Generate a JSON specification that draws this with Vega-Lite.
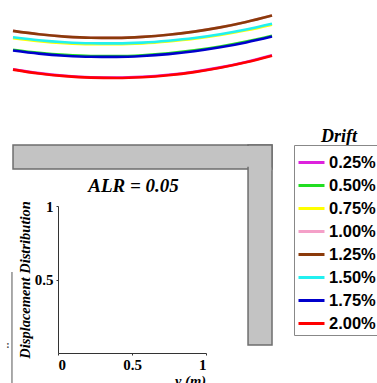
{
  "$schema": "https://vega.github.io/schema/vega-lite/v6.json",
  "width": 377,
  "height": 383,
  "autosize": {"type": "none"},
  "padding": 0,
  "background": "white",
  "config": {
    "view": {"stroke": null},
    "axis": {
      "grid": false,
      "labelFont": "Liberation Serif",
      "labelFontWeight": "bold",
      "labelFontSize": 15,
      "labelColor": "black",
      "titleFont": "Liberation Serif",
      "titleFontStyle": "italic",
      "titleFontWeight": "bold",
      "titleFontSize": 14.5,
      "titleColor": "black",
      "domainColor": "#333333",
      "tickColor": "#333333",
      "tickSize": 2
    }
  },
  "resolve": {"scale": {"x": "independent", "y": "independent"}},
  "layer": [
    {
      "data": {
        "values": [
          {"t": 0.0, "v": 30.8, "drift": "0.25%"}, {"t": 0.1, "v": 26.9, "drift": "0.25%"}, {"t": 0.2, "v": 24.3, "drift": "0.25%"}, {"t": 0.3, "v": 22.8, "drift": "0.25%"}, {"t": 0.4, "v": 22.4, "drift": "0.25%"}, {"t": 0.5, "v": 23.2, "drift": "0.25%"}, {"t": 0.6, "v": 25.2, "drift": "0.25%"}, {"t": 0.7, "v": 28.3, "drift": "0.25%"}, {"t": 0.8, "v": 32.6, "drift": "0.25%"}, {"t": 0.9, "v": 38.1, "drift": "0.25%"}, {"t": 1.0, "v": 44.7, "drift": "0.25%"},
          {"t": 0.0, "v": 50.3, "drift": "0.50%"}, {"t": 0.1, "v": 47.2, "drift": "0.50%"}, {"t": 0.2, "v": 45.1, "drift": "0.50%"}, {"t": 0.3, "v": 44.0, "drift": "0.50%"}, {"t": 0.4, "v": 43.9, "drift": "0.50%"}, {"t": 0.5, "v": 44.8, "drift": "0.50%"}, {"t": 0.6, "v": 46.7, "drift": "0.50%"}, {"t": 0.7, "v": 49.6, "drift": "0.50%"}, {"t": 0.8, "v": 53.5, "drift": "0.50%"}, {"t": 0.9, "v": 58.4, "drift": "0.50%"}, {"t": 1.0, "v": 64.3, "drift": "0.50%"},
          {"t": 0.0, "v": 61.9, "drift": "0.75%"}, {"t": 0.1, "v": 58.9, "drift": "0.75%"}, {"t": 0.2, "v": 56.9, "drift": "0.75%"}, {"t": 0.3, "v": 55.9, "drift": "0.75%"}, {"t": 0.4, "v": 55.8, "drift": "0.75%"}, {"t": 0.5, "v": 56.6, "drift": "0.75%"}, {"t": 0.6, "v": 58.5, "drift": "0.75%"}, {"t": 0.7, "v": 61.2, "drift": "0.75%"}, {"t": 0.8, "v": 65.0, "drift": "0.75%"}, {"t": 0.9, "v": 69.7, "drift": "0.75%"}, {"t": 1.0, "v": 75.4, "drift": "0.75%"},
          {"t": 0.0, "v": 69.1, "drift": "1.00%"}, {"t": 0.1, "v": 65.7, "drift": "1.00%"}, {"t": 0.2, "v": 63.4, "drift": "1.00%"}, {"t": 0.3, "v": 62.2, "drift": "1.00%"}, {"t": 0.4, "v": 62.1, "drift": "1.00%"}, {"t": 0.5, "v": 63.1, "drift": "1.00%"}, {"t": 0.6, "v": 65.2, "drift": "1.00%"}, {"t": 0.7, "v": 68.4, "drift": "1.00%"}, {"t": 0.8, "v": 72.6, "drift": "1.00%"}, {"t": 0.9, "v": 78.0, "drift": "1.00%"}, {"t": 1.0, "v": 84.5, "drift": "1.00%"},
          {"t": 0.0, "v": 69.1, "drift": "1.25%"}, {"t": 0.1, "v": 65.7, "drift": "1.25%"}, {"t": 0.2, "v": 63.4, "drift": "1.25%"}, {"t": 0.3, "v": 62.2, "drift": "1.25%"}, {"t": 0.4, "v": 62.1, "drift": "1.25%"}, {"t": 0.5, "v": 63.1, "drift": "1.25%"}, {"t": 0.6, "v": 65.2, "drift": "1.25%"}, {"t": 0.7, "v": 68.4, "drift": "1.25%"}, {"t": 0.8, "v": 72.6, "drift": "1.25%"}, {"t": 0.9, "v": 78.0, "drift": "1.25%"}, {"t": 1.0, "v": 84.5, "drift": "1.25%"},
          {"t": 0.0, "v": 62.7, "drift": "1.50%"}, {"t": 0.1, "v": 59.7, "drift": "1.50%"}, {"t": 0.2, "v": 57.7, "drift": "1.50%"}, {"t": 0.3, "v": 56.7, "drift": "1.50%"}, {"t": 0.4, "v": 56.6, "drift": "1.50%"}, {"t": 0.5, "v": 57.4, "drift": "1.50%"}, {"t": 0.6, "v": 59.3, "drift": "1.50%"}, {"t": 0.7, "v": 62.0, "drift": "1.50%"}, {"t": 0.8, "v": 65.8, "drift": "1.50%"}, {"t": 0.9, "v": 70.5, "drift": "1.50%"}, {"t": 1.0, "v": 76.2, "drift": "1.50%"},
          {"t": 0.0, "v": 49.5, "drift": "1.75%"}, {"t": 0.1, "v": 46.4, "drift": "1.75%"}, {"t": 0.2, "v": 44.3, "drift": "1.75%"}, {"t": 0.3, "v": 43.2, "drift": "1.75%"}, {"t": 0.4, "v": 43.1, "drift": "1.75%"}, {"t": 0.5, "v": 44.0, "drift": "1.75%"}, {"t": 0.6, "v": 45.9, "drift": "1.75%"}, {"t": 0.7, "v": 48.8, "drift": "1.75%"}, {"t": 0.8, "v": 52.7, "drift": "1.75%"}, {"t": 0.9, "v": 57.6, "drift": "1.75%"}, {"t": 1.0, "v": 63.5, "drift": "1.75%"},
          {"t": 0.0, "v": 30.4, "drift": "2.00%"}, {"t": 0.1, "v": 26.5, "drift": "2.00%"}, {"t": 0.2, "v": 23.9, "drift": "2.00%"}, {"t": 0.3, "v": 22.4, "drift": "2.00%"}, {"t": 0.4, "v": 22.0, "drift": "2.00%"}, {"t": 0.5, "v": 22.8, "drift": "2.00%"}, {"t": 0.6, "v": 24.8, "drift": "2.00%"}, {"t": 0.7, "v": 27.9, "drift": "2.00%"}, {"t": 0.8, "v": 32.2, "drift": "2.00%"}, {"t": 0.9, "v": 37.7, "drift": "2.00%"}, {"t": 1.0, "v": 44.3, "drift": "2.00%"}
        ]
      },
      "mark": {"type": "line", "interpolate": "monotone", "strokeWidth": 2.6},
      "encoding": {
        "x": {"field": "t", "type": "quantitative", "scale": {"domain": [0, 1], "range": [13, 272], "nice": false, "zero": false}, "axis": null},
        "y": {"field": "v", "type": "quantitative", "scale": {"domain": [0, 100], "range": [100, 0], "nice": false, "zero": false}, "axis": null},
        "color": {
          "field": "drift",
          "type": "nominal",
          "scale": {
            "domain": ["0.25%", "0.50%", "0.75%", "1.00%", "1.25%", "1.50%", "1.75%", "2.00%"],
            "range": ["#dd22dd", "#22dd22", "#ffff00", "#f4a0c8", "#8b3a0a", "#22f0f0", "#0000cc", "#ff0000"]
          },
          "legend": {
            "orient": "none",
            "legendX": 294,
            "legendY": 145,
            "title": null,
            "strokeColor": "#888888",
            "fillColor": "white",
            "padding": 3,
            "symbolType": "stroke",
            "symbolSize": 676,
            "symbolStrokeWidth": 3,
            "symbolOffset": 0,
            "labelFont": "Liberation Sans",
            "labelFontSize": 16.5,
            "labelFontWeight": "bold",
            "labelColor": "black",
            "labelOffset": 3,
            "rowPadding": 0
          }
        }
      }
    },
    {
      "layer": [
        {
          "data": {"values": [
            {"part": "top", "x0": -0.304, "x1": 1.446, "y0": 1.415, "y1": 1.252},
            {"part": "side", "x0": 1.284, "x1": 1.446, "y0": 1.415, "y1": 0.054}
          ]},
          "mark": {"type": "rect", "fill": "#c3c3c3", "stroke": "#6e6e6e", "strokeWidth": 1.5},
          "encoding": {
            "x": {"field": "x0", "type": "quantitative", "scale": {"domain": [0, 1], "range": [58, 206], "nice": false, "zero": false},
                  "axis": {"values": [0, 0.5, 1], "orient": "bottom", "offset": -30, "title": "y (m)", "titleX": 190, "titleY": 21, "titleBaseline": "top", "labelPadding": 2, "format": "~g"}},
            "x2": {"field": "x1"},
            "y": {"field": "y0", "type": "quantitative", "scale": {"domain": [0, 1], "range": [353, 206], "nice": false, "zero": false},
                  "axis": {"values": [0.5, 1], "orient": "left", "offset": -58, "title": "Displacement Distribution", "titlePadding": 2, "labelPadding": 3, "format": "~g"}},
            "y2": {"field": "y1"}
          }
        },
        {
          "data": {"values": [
            {"x0": 1.2770, "x1": 1.2960, "y0": 1.408, "y1": 1.267},
            {"x0": 1.2910, "x1": 1.4405, "y0": 1.262, "y1": 1.240}
          ]},
          "mark": {"type": "rect", "fill": "#c3c3c3"},
          "encoding": {
            "x": {"field": "x0", "type": "quantitative"},
            "x2": {"field": "x1"},
            "y": {"field": "y0", "type": "quantitative"},
            "y2": {"field": "y1"}
          }
        },
        {
          "data": {"values": [{"x": -0.311, "y0": 0.551, "y1": -0.26}]},
          "mark": {"type": "rule", "color": "#555555", "strokeWidth": 1},
          "encoding": {
            "x": {"field": "x", "type": "quantitative"},
            "y": {"field": "y0", "type": "quantitative"},
            "y2": {"field": "y1"}
          }
        },
        {
          "data": {"values": [{"x": 0.51, "y": 1.095, "label": "ALR = 0.05"}]},
          "mark": {"type": "text", "font": "Liberation Serif", "fontSize": 19, "fontStyle": "italic", "fontWeight": "bold", "color": "black", "baseline": "alphabetic", "align": "center"},
          "encoding": {
            "x": {"field": "x", "type": "quantitative"},
            "y": {"field": "y", "type": "quantitative"},
            "text": {"field": "label"}
          }
        },
        {
          "data": {"values": [{"x": 1.899, "y": 1.435, "label": "Drift"}]},
          "mark": {"type": "text", "font": "Liberation Serif", "fontSize": 18, "fontStyle": "italic", "fontWeight": "bold", "color": "black", "baseline": "alphabetic", "align": "center"},
          "encoding": {
            "x": {"field": "x", "type": "quantitative"},
            "y": {"field": "y", "type": "quantitative"},
            "text": {"field": "label"}
          }
        },
        {
          "data": {"values": [{"x": -0.338, "y": 0.054, "label": ":"}]},
          "mark": {"type": "text", "font": "Liberation Serif", "fontSize": 10, "fontWeight": "bold", "color": "#444444", "baseline": "middle", "align": "center"},
          "encoding": {
            "x": {"field": "x", "type": "quantitative"},
            "y": {"field": "y", "type": "quantitative"},
            "text": {"field": "label"}
          }
        }
      ]
    }
  ]
}
